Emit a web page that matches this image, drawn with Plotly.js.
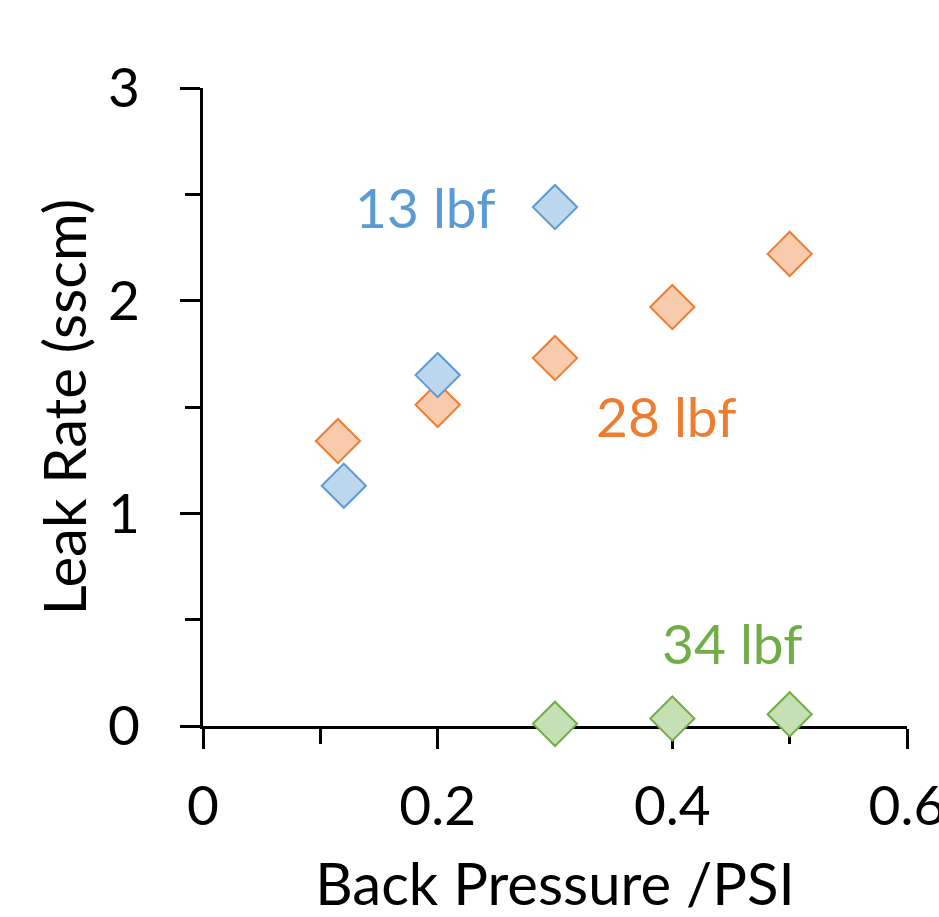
<!DOCTYPE html>
<html>
<head>
<meta charset="utf-8">
<script src="https://cdn.plot.ly/plotly-3.0.1.min.js"></script>
<style>html,body{margin:0;padding:0;background:#fff;}#chart{width:939px;height:917px;}</style>
</head>
<body>
<div id="chart"></div>
<script>
// Data
const x13 = [0.12, 0.2, 0.3];
const y13 = [1.13, 1.65, 2.44];
const x28 = [0.115, 0.2, 0.3, 0.4, 0.5];
const y28 = [1.34, 1.51, 1.73, 1.97, 2.22];
const x34 = [0.3, 0.4, 0.5];
const y34 = [0.01, 0.035, 0.055];
const seriesNames = ["13 lbf", "28 lbf", "34 lbf"];
const labelX = [0.19, 0.395, 0.451];
const labelY = [2.44, 1.46, 0.39];
const xTickVals = [0, 0.2, 0.4, 0.6];
const xTickText = ["0", "0.2", "0.4", "0.6"];
const yTickVals = [0, 1, 2, 3];
const yTickText = ["0", "1", "2", "3"];
const xTitle = "Back Pressure /PSI";
const yTitle = "Leak Rate (sscm)";

const FONT = "Lato, 'Open Sans', sans-serif";
const lineC = ["#5B9BD5", "#ED7D31", "#70AD47"];
const fillC = ["#BDD7EE", "#F8CBAD", "#C5E0B4"];

function tr(x, y, i) {
  return {
    x: x, y: y, type: "scatter", mode: "markers", name: seriesNames[i],
    cliponaxis: false, showlegend: false, hoverinfo: "skip",
    marker: {symbol: "diamond", size: 34, color: fillC[i], line: {color: lineC[i], width: 2}}
  };
}
const data = [tr(x28, y28, 1), tr(x13, y13, 0), tr(x34, y34, 2)];

const annotations = seriesNames.map((t, i) => ({
  x: labelX[i], y: labelY[i], xref: "x", yref: "y", text: t, showarrow: false,
  font: {family: FONT, size: 55, color: lineC[i]}, xanchor: "center", yanchor: "middle"
}));

const layout = {
  width: 939, height: 917,
  margin: {l: 203, r: 32, t: 88, b: 191},
  paper_bgcolor: "#fff", plot_bgcolor: "#fff",
  font: {family: FONT, color: "#000"},
  showlegend: false,
  xaxis: {
    range: [0, 0.6], tickmode: "array", tickvals: xTickVals, ticktext: xTickText,
    showgrid: false, zeroline: false,
    showline: true, linecolor: "#000", linewidth: 3, mirror: false,
    ticks: "outside", ticklen: 20, tickwidth: 3, tickcolor: "#000",
    minor: {dtick: 0.1, tick0: 0, ticks: "outside", ticklen: 15, tickwidth: 3, tickcolor: "#000", showgrid: false},
    tickfont: {family: FONT, size: 55, color: "#000"},
    ticklabelstandoff: 10, ticklabeloverflow: "allow",
    title: {text: xTitle, font: {family: FONT, size: 58, color: "#000"}, standoff: 33},
    layer: "below traces", fixedrange: true
  },
  yaxis: {
    range: [0, 3], tickmode: "array", tickvals: yTickVals, ticktext: yTickText,
    showgrid: false, zeroline: false,
    showline: true, linecolor: "#000", linewidth: 3,
    ticks: "outside", ticklen: 20, tickwidth: 3, tickcolor: "#000",
    minor: {dtick: 0.5, tick0: 0, ticks: "outside", ticklen: 15, tickwidth: 3, tickcolor: "#000", showgrid: false},
    tickfont: {family: FONT, size: 55, color: "#000"},
    ticklabelstandoff: 29,
    title: {text: yTitle, font: {family: FONT, size: 58, color: "#000"}, standoff: 3},
    layer: "below traces", fixedrange: true
  },
  annotations: annotations
};

Plotly.newPlot("chart", data, layout, {staticPlot: true, displayModeBar: false});
</script>
</body>
</html>
